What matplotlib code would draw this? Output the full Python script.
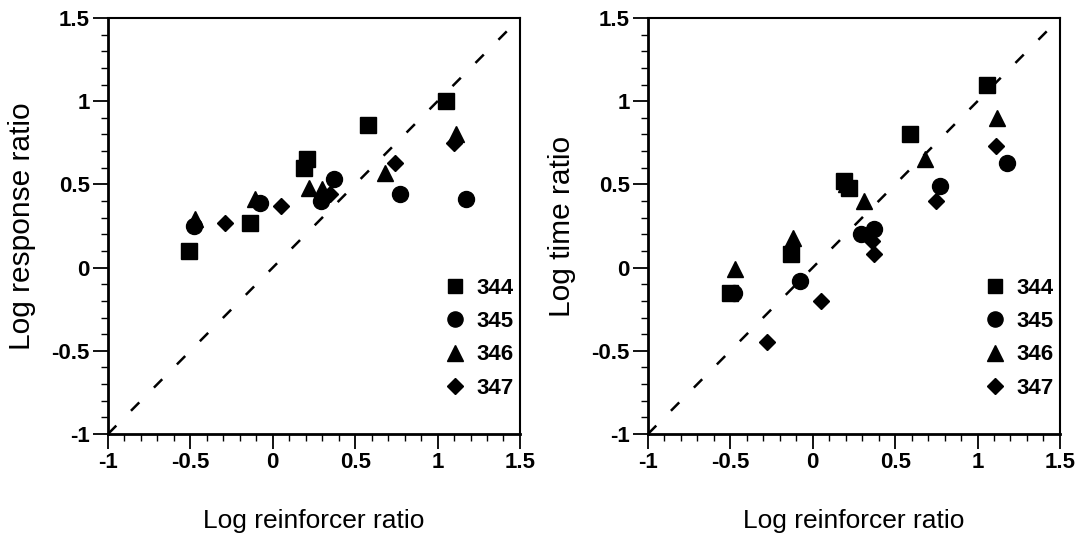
import matplotlib
matplotlib.use('Agg')
import matplotlib.pyplot as plt
from matplotlib.ticker import MultipleLocator, FixedLocator, FixedFormatter

plt.rcParams['font.family'] = ['Liberation Sans Narrow', 'Liberation Sans', 'DejaVu Sans']
plt.rcParams['lines.scale_dashes'] = False

# subjects and their marker shapes
subjects = ['344', '345', '346', '347']
markers = ['s', 'o', '^', 'D']
msizes = [11, 11.5, 12, 8.5]

# left panel: log response ratio vs log reinforcer ratio
resp_x = {
    '344': [-0.51, -0.14, 0.19, 0.21, 0.58, 1.05],
    '345': [-0.48, -0.08, 0.29, 0.37, 0.77, 1.17],
    '346': [-0.47, -0.11, 0.22, 0.30, 0.68, 1.11],
    '347': [-0.29, 0.05, 0.35, 0.74, 1.10],
}
resp_y = {
    '344': [0.10, 0.27, 0.60, 0.65, 0.86, 1.00],
    '345': [0.25, 0.39, 0.40, 0.53, 0.44, 0.41],
    '346': [0.29, 0.41, 0.48, 0.47, 0.57, 0.80],
    '347': [0.27, 0.37, 0.44, 0.63, 0.75],
}

# right panel: log time ratio vs log reinforcer ratio
time_x = {
    '344': [-0.50, -0.13, 0.19, 0.22, 0.59, 1.06],
    '345': [-0.48, -0.08, 0.29, 0.37, 0.77, 1.18],
    '346': [-0.47, -0.12, 0.20, 0.31, 0.68, 1.12],
    '347': [-0.28, 0.05, 0.36, 0.37, 0.75, 1.11],
}
time_y = {
    '344': [-0.15, 0.08, 0.52, 0.48, 0.80, 1.10],
    '345': [-0.15, -0.08, 0.20, 0.23, 0.49, 0.63],
    '346': [-0.01, 0.18, 0.50, 0.40, 0.65, 0.90],
    '347': [-0.45, -0.20, 0.16, 0.08, 0.40, 0.73],
}

diag = [-1, 1.5]  # line of perfect matching
ticks = [-1, -0.5, 0, 0.5, 1, 1.5]
tick_labels = ['-1', '-0.5', '0', '0.5', '1', '1.5']

fig = plt.figure(figsize=(10.81, 5.41), dpi=100)
ax1 = fig.add_axes([0.0999, 0.1978, 0.3811, 0.7689])
ax2 = fig.add_axes([0.5994, 0.1978, 0.3811, 0.7689])

panels = [(ax1, resp_x, resp_y, 'Log response ratio'),
          (ax2, time_x, time_y, 'Log time ratio')]

for ax, xs, ys, ylab in panels:
    ax.plot(diag, diag, color='black', lw=1.8, dashes=(8.5, 15), zorder=1)
    for subj, mk, ms in zip(subjects, markers, msizes):
        ax.plot(xs[subj], ys[subj], linestyle='none', marker=mk, markersize=ms,
                color='black', label=subj, zorder=3)
    ax.set_xlim(-1, 1.5)
    ax.set_ylim(-1, 1.5)
    for axis in (ax.xaxis, ax.yaxis):
        axis.set_major_locator(FixedLocator(ticks))
        axis.set_major_formatter(FixedFormatter(tick_labels))
        axis.set_minor_locator(MultipleLocator(0.1))
    ax.tick_params(which='major', direction='out', length=11, width=1.3,
                   labelsize=16, pad=2)
    ax.tick_params(which='minor', direction='out', length=5, width=1.0)
    for lbl in ax.get_xticklabels() + ax.get_yticklabels():
        lbl.set_fontweight('bold')
    for side in ['left', 'bottom']:
        ax.spines[side].set_linewidth(2.0)
    for side in ['top', 'right']:
        ax.spines[side].set_linewidth(1.5)
    ax.set_xlabel('Log reinforcer ratio', fontsize=19)
    ax.set_ylabel(ylab, fontsize=21.5, family=['Liberation Sans', 'DejaVu Sans'])
    ax.xaxis.set_label_coords(0.5, -0.18)
    ax.yaxis.set_label_coords(-0.175, 0.5)
    leg = ax.legend(loc='lower right', bbox_to_anchor=(0.985, 0.085), frameon=False,
                    borderaxespad=0, borderpad=0, handlelength=0.9, handletextpad=0.5,
                    labelspacing=0.55, markerscale=0.95,
                    prop={'size': 16, 'weight': 'bold'})

fig.savefig('out.png', dpi=100)
